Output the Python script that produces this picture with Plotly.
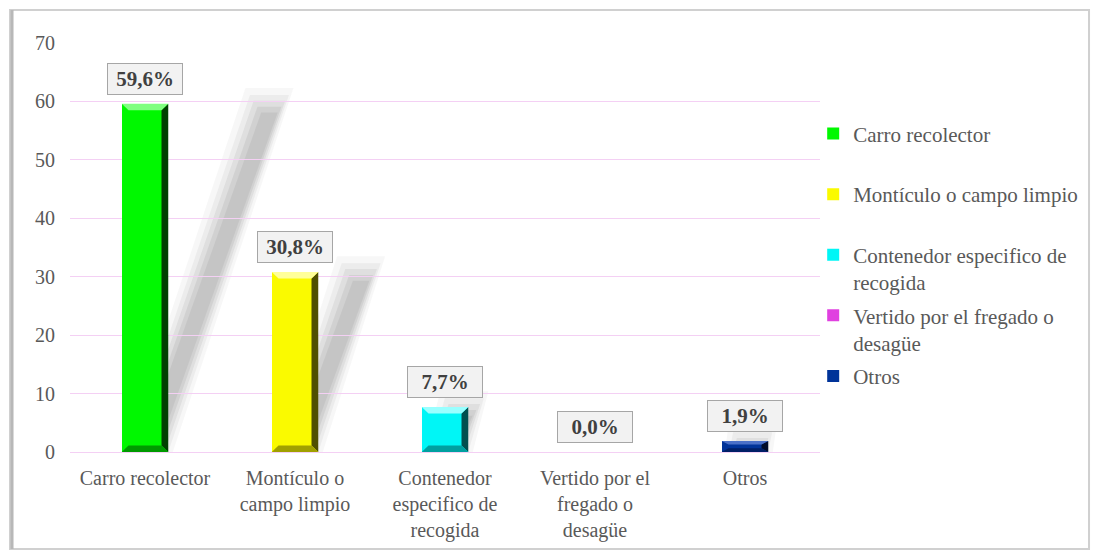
import plotly.graph_objects as go

# ---- data ----
categories = ["Carro recolector", "Montículo o campo limpio", "Contenedor especifico de recogida",
              "Vertido por el fregado o desagüe", "Otros"]
axis_labels = ["Carro recolector", "Montículo o<br>campo limpio", "Contenedor<br>especifico de<br>recogida",
               "Vertido por el<br>fregado o<br>desagüe", "Otros"]
legend_labels = ["Carro recolector<br> ", "Montículo o campo limpio<br> ", "Contenedor especifico de<br>recogida",
                 "Vertido por el fregado o<br>desagüe", "Otros<br> "]
values = [59.6, 30.8, 7.7, 0.0, 1.9]
y_ticks = [0, 10, 20, 30, 40, 50, 60, 70]

# ---- styles ----
fills = ["#00f800", "#fafa00", "#00f6f6", "#e040e0", "#003399"]
lights = ["#80ff80", "#ffff99", "#99ffff", "#ff99ff", "#4a70c8"]
darks = ["#004000", "#505000", "#005050", "#661a66", "#000c2a"]
mids = ["#009a00", "#a0a000", "#00a0a0", "#a030a0", "#001f66"]
BAR_W = 0.31
FONT = "Liberation Serif, Times New Roman, serif"
TXT = "#595959"

fig = go.Figure()
shapes = []

# shadows (sheared copies of bars, drawn below, layered for a soft edge)
K = 0.0135
for i, v in enumerate(values):
    if v <= 0:
        continue
    for blur, op in [(-0.03, 0.06), (0.0, 0.08), (0.025, 0.10), (0.05, 0.12), (0.075, 0.12)]:
        x0b, x1b = i - BAR_W / 2 + 0.05 + blur, i + BAR_W / 2 - blur
        x0t, x1t = x0b + K * v, x1b + K * v
        ytop = v + 1.5 - blur * 40
        path = f"M {x0b} 0 L {x1b} 0 L {x1t} {ytop} L {x0t} {ytop} Z"
        shapes.append(dict(type="path", path=path, xref="x", yref="y", fillcolor="#707070",
                           opacity=op, line=dict(width=0), layer="below"))

for i, (lab, v) in enumerate(zip(legend_labels, values)):
    fig.add_trace(go.Bar(
        x=[i], y=[v], width=BAR_W, name=lab, legendgroup=f"g{i}",
        marker=dict(color=fills[i], line=dict(color=mids[i], width=0)),
        hoverinfo="skip"))

# bevel faces
for i, v in enumerate(values):
    if v <= 0:
        continue
    l, r = i - BAR_W / 2, i + BAR_W / 2
    bx = 0.045
    by = min(1.1, v / 3)
    shapes.append(dict(type="path", xref="x", yref="y", layer="above", line=dict(width=0),
                       fillcolor=darks[i],
                       path=f"M {r} 0 L {r} {v} L {r-bx} {v-by} L {r-bx} {by} Z"))
    shapes.append(dict(type="path", xref="x", yref="y", layer="above", line=dict(width=0),
                       fillcolor=mids[i],
                       path=f"M {l} 0 L {r} 0 L {r-bx} {by} L {l+bx} {by} Z"))
    shapes.append(dict(type="path", xref="x", yref="y", layer="above", line=dict(width=0),
                       fillcolor=lights[i],
                       path=f"M {l} {v} L {r} {v} L {r-bx} {v-by} L {l+bx} {v-by} Z"))

# outer frame
shapes.append(dict(type="rect", xref="paper", yref="paper", x0=-0.08, x1=1.3587, y0=-0.237, y1=1.0807,
                   line=dict(color="#d0d0d0", width=2), layer="below"))
shapes.append(dict(type="line", xref="paper", yref="paper", x0=-0.0773, x1=-0.0773, y0=-0.237, y1=1.0807,
                   line=dict(color="#b8b8b8", width=3), layer="below"))

# data labels
annotations = []
for i, v in enumerate(values):
    annotations.append(dict(
        x=i, y=v, xref="x", yref="y", yanchor="bottom", yshift=9,
        text=f"<b>{v:.1f}%</b>".replace(".", ","), showarrow=False,
        font=dict(family=FONT, size=21, color="#404040"),
        bgcolor="#f2f2f2", bordercolor="#a6a6a6", borderwidth=1, borderpad=3, width=68))

fig.update_layout(
    width=1093, height=556,
    margin=dict(l=70, r=273, t=43, b=104, autoexpand=False),
    paper_bgcolor="white", plot_bgcolor="white",
    barmode="overlay", bargap=0,
    font=dict(family=FONT, size=20, color=TXT),
    shapes=shapes, annotations=annotations,
    xaxis=dict(range=[-0.5, 4.5], tickmode="array", tickvals=list(range(len(categories))),
               ticktext=axis_labels, showgrid=False, zeroline=False, showline=False, ticks="",
               ticklabelstandoff=12, tickfont=dict(family=FONT, size=20, color=TXT)),
    yaxis=dict(range=[0, 70], tickmode="array", tickvals=y_ticks, gridcolor="#f4d0f4", gridwidth=1,
               zeroline=True, zerolinecolor="#f4d0f4", zerolinewidth=1, showline=False, ticks="",
               ticklabelstandoff=14, tickfont=dict(family=FONT, size=20, color=TXT)),
    legend=dict(xref="container", yref="container", x=0.744, y=0.796, xanchor="left", yanchor="top",
                valign="top", traceorder="grouped", tracegroupgap=3, bgcolor="rgba(0,0,0,0)",
                maxheight=420, font=dict(family=FONT, size=21, color=TXT)),
    showlegend=True,
)

fig.write_html("out.html", config={"displayModeBar": False},
               post_script="document.body.style.margin='0';document.body.style.overflow='hidden';")
